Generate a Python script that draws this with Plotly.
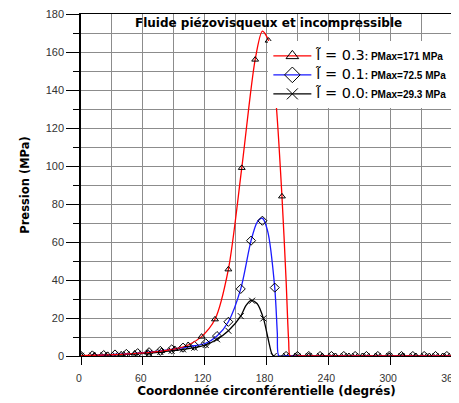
import plotly.graph_objects as go

# ---- data ----
# red, l=0.3
red_curve_x = [0, 13, 26, 39, 52, 65, 78, 91, 104, 117, 130, 143, 156, 169, 176, 182, 189, 195, 199, 201.5, 203, 210, 360]
red_curve_y = [0.2, 0.4, 0.6, 0.9, 1.3, 1.8, 2.6, 3.7, 5.8, 10.2, 19.3, 45.6, 99, 156, 171, 166, 135, 84, 40, 8, 0, 0, 0]
red_mark_x = [0, 13, 26, 39, 52, 65, 78, 91, 104, 117, 130, 143, 156, 169, 182, 195, 208, 221, 234, 247, 260, 273, 286, 299, 312, 325, 338, 351]
red_mark_y = [0.2, 0.4, 0.6, 0.9, 1.3, 1.8, 2.6, 3.7, 5.8, 10.2, 19.3, 45.6, 99, 156, 166, 84, 0, 0, 0, 0, 0, 0, 0, 0, 0, 0, 0, 0]

# blue, l=0.1
blue_curve_x = [0, 11, 22, 33, 44, 55, 66, 77, 88, 99, 110, 121, 132, 143, 155, 165, 171, 176, 181, 188, 190.5, 192, 199, 360]
blue_curve_y = [0.1, 0.3, 0.5, 0.8, 1.1, 1.5, 2.0, 2.7, 3.5, 4.4, 5.4, 6.7, 10.5, 18, 35.3, 60.7, 70.5, 72.5, 66, 36, 12, 0, 0, 0]
blue_mark_x = [0, 11, 22, 33, 44, 55, 66, 77, 88, 99, 110, 121, 132, 143, 155, 165, 176, 188, 199, 210, 221, 232, 243, 255, 266, 277, 288, 299, 311, 322, 333, 344, 355]
blue_mark_y = [0.1, 0.3, 0.5, 0.8, 1.1, 1.5, 2.0, 2.7, 3.5, 4.4, 5.4, 6.7, 10.5, 18, 35.3, 60.7, 71.2, 36, 0, 0, 0, 0, 0, 0, 0, 0, 0, 0, 0, 0, 0, 0, 0]

# black, l=0.0
black_curve_x = [0, 11, 22, 33, 44, 55, 66, 77, 88, 99, 110, 121, 132, 143, 155, 160, 165, 171, 177, 182, 185, 187, 199, 360]
black_curve_y = [0.1, 0.2, 0.4, 0.6, 0.9, 1.2, 1.6, 2.1, 2.8, 3.5, 4.4, 5.8, 8.8, 13.3, 21, 26.5, 29.3, 27.5, 19.8, 8, 1.5, 0, 0, 0]
black_mark_x = [0, 11, 22, 33, 44, 55, 66, 77, 88, 99, 110, 121, 132, 143, 155, 166, 177, 187, 199, 210, 221, 232, 243, 255, 266, 277, 288, 299, 311, 322, 333, 344, 355]
black_mark_y = [0.1, 0.2, 0.4, 0.6, 0.9, 1.2, 1.6, 2.1, 2.8, 3.5, 4.4, 5.8, 8.8, 13.3, 21, 29.1, 19.8, 0, 0, 0, 0, 0, 0, 0, 0, 0, 0, 0, 0, 0, 0, 0, 0]

series = [
    # name, color, symbol, size, curve, marks, legend value, pmax
    ("black", "black", "x-thin-open", 6, black_curve_x, black_curve_y, black_mark_x, black_mark_y, "0.0", "29.3"),
    ("blue", "#1a1aff", "diamond-open", 7, blue_curve_x, blue_curve_y, blue_mark_x, blue_mark_y, "0.1", "72.5"),
    ("red", "#ff0000", "triangle-up-open", 6, red_curve_x, red_curve_y, red_mark_x, red_mark_y, "0.3", "171"),
]

x_ticks = [0, 60, 120, 180, 240, 300, 360]
y_ticks = [0, 20, 40, 60, 80, 100, 120, 140, 160, 180]

BOLD = "DejaVu Sans"

fig = go.Figure()
rank = {"red": 1, "blue": 2, "black": 3}
for name, col, sym, sz, cx, cy, mx, my, lval, pmax in series:
    fig.add_trace(go.Scatter(x=cx, y=cy, mode="lines", line=dict(color=col, width=1.3, shape="spline", smoothing=0.8),
                             showlegend=False, hoverinfo="skip"))
    fig.add_trace(go.Scatter(x=mx, y=my, mode="markers", showlegend=False,
                             marker=dict(symbol=sym, size=sz, color="black", line=dict(color="black", width=1))))
    label = ("<span style='font-size:14.5px;font-family:DejaVu Sans'>l\u0303 = " + lval + "</span>"
             "<b>: PMax=" + pmax + " MPa</b>")
    fig.add_trace(go.Scatter(x=[None], y=[None], mode="lines+markers", name=label, legendrank=rank[name],
                             line=dict(color=col, width=1.3),
                             marker=dict(symbol=sym, size=sz + 5, color="black", line=dict(color="black", width=1))))

fig.add_annotation(text="<b>Fluide piézovisqueux et incompressible</b>", xref="paper", yref="paper",
                   x=0.505, y=0.999, xanchor="center", yanchor="top", showarrow=False,
                   font=dict(family=BOLD, size=12, color="black"))

# the page body adds an 8px margin, so the figure is sized to fit the window from (8, 8)
fig.update_layout(
    width=451, height=395,
    margin=dict(l=73, r=7, t=6, b=47),
    paper_bgcolor="white", plot_bgcolor="white",
    font=dict(family="Liberation Sans", color="#222"),
    legend=dict(x=0.505, y=0.92, xanchor="left", yanchor="top", bgcolor="white",
                font=dict(family="Liberation Sans", size=10, color="black"), itemwidth=38, tracegroupgap=0),
    showlegend=True,
)
fig.update_xaxes(range=[0, 360], tickvals=x_ticks, ticks="outside", ticklen=8, tickcolor="black",
                 showline=True, linecolor="black", linewidth=1, mirror=True, automargin=False,
                 ticklabeloverflow="allow", ticklabelstandoff=4, ticklabelshift=-2,
                 showgrid=True, gridcolor="#8c8c8c", gridwidth=1,
                 minor=dict(dtick=30, showgrid=True, gridcolor="#8c8c8c", ticks=""),
                 zeroline=False, tickfont=dict(size=10.5, color="#333"),
                 title=dict(text="<b>Coordonnée circonférentielle (degrés)</b>",
                            font=dict(family=BOLD, size=12, color="black"), standoff=0))
fig.update_yaxes(range=[0, 180], tickvals=y_ticks, ticks="outside", ticklen=13, tickcolor="black",
                 showline=True, linecolor="black", linewidth=1.5, mirror=True, automargin=False,
                 ticklabeloverflow="allow",
                 showgrid=True, gridcolor="#8c8c8c", gridwidth=1,
                 minor=dict(dtick=10, showgrid=True, gridcolor="#8c8c8c", ticks="outside", ticklen=6, tickcolor="black"),
                 zeroline=False, tickfont=dict(size=11, color="#333"),
                 title=dict(text="<b>Pression (MPa)</b>", font=dict(family=BOLD, size=11.5, color="black"), standoff=14))

fig.write_html("out.html")
